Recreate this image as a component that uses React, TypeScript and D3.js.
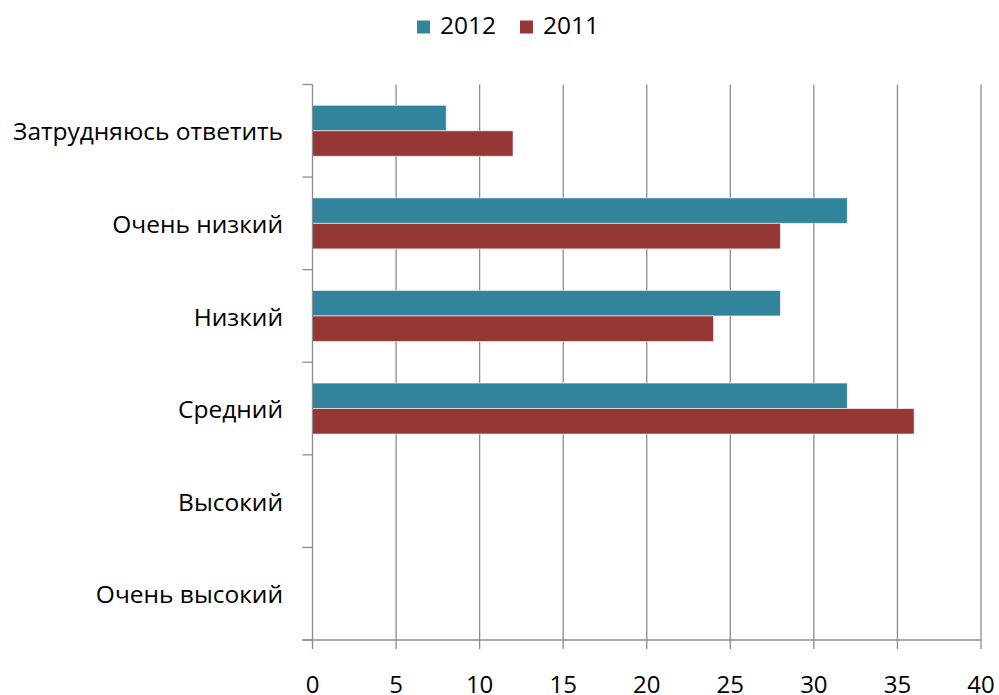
import React from "react";
import * as d3 from "d3";

const categories = ["Затрудняюсь ответить", "Очень низкий", "Низкий", "Средний", "Высокий", "Очень высокий"];
const series = ["2012", "2011"];
const values2012 = [8, 32, 28, 32, 0, 0];
const values2011 = [12, 28, 24, 36, 0, 0];
const xTicks = [0, 5, 10, 15, 20, 25, 30, 35, 40];
const colors = ["#31849B", "#953735"];

export default function App() {
  const W = 999, H = 695;
  const left = 312.5, right = 981, top = 84.5, bottom = 640;
  const x = d3.scaleLinear().domain([0, 40]).range([left, right]);
  const y = d3.scaleBand<string>().domain(categories).range([top, bottom]).paddingInner(0).paddingOuter(0);
  const bw = y.bandwidth();
  const barH = 25.5;
  const inner = d3.scaleBand<string>().domain(series).range([0, barH * 2]);
  const data = [values2012, values2011];
  const font = "'Open Sans', 'Noto Sans', sans-serif";
  const grid = "#8c8c8c";
  return (
    <svg width={W} height={H} style={{ position: "absolute", left: 0, top: 0, background: "#fff" }}>
      {xTicks.slice(1).map((t) => (
        <line key={"g" + t} x1={x(t)} x2={x(t)} y1={top} y2={bottom} stroke={grid} strokeWidth={1.3} />
      ))}
      {categories.map((c, i) =>
        series.map((s, j) => {
          const v = data[j][i];
          if (!v) return null;
          const yy = (y(c) as number) + (bw - barH * 2) / 2 + (inner(s) as number);
          return (
            <rect key={c + s} x={x(0)} y={yy} width={x(v) - x(0)} height={inner.bandwidth()}
              fill={colors[j]} stroke="#ffffff" strokeOpacity={0.6} strokeWidth={1} />
          );
        })
      )}
      {/* y axis */}
      <line x1={left} x2={left} y1={top} y2={bottom} stroke={grid} strokeWidth={1.3} />
      {d3.range(categories.length + 1).map((i) => {
        const yy = top + i * bw;
        return <line key={"yt" + i} x1={left - 10} x2={left} y1={yy} y2={yy} stroke={grid} strokeWidth={1.3} />;
      })}
      {categories.map((c) => (
        <text key={"l" + c} x={283} y={(y(c) as number) + bw / 2 + 1} dy="0.35em" textAnchor="end"
          fontFamily={font} fontSize={24.5} fill="#000">{c}</text>
      ))}
      {/* x axis */}
      <line x1={left - 10} x2={right} y1={bottom} y2={bottom} stroke={grid} strokeWidth={1.3} />
      {xTicks.map((t) => (
        <g key={"xt" + t}>
          <line x1={x(t)} x2={x(t)} y1={bottom} y2={bottom + 9} stroke={grid} strokeWidth={1.3} />
          <text x={x(t)} y={693} textAnchor="middle" fontFamily={font} fontSize={24} fill="#000">{t}</text>
        </g>
      ))}
      {/* legend */}
      {series.map((s, j) => {
        const lx = 417 + j * 103;
        return (
          <g key={"lg" + s}>
            <rect x={lx} y={20.5} width={13} height={13} fill={colors[j]} />
            <text x={lx + 23} y={34} fontFamily={font} fontSize={24.5} fill="#000">{s}</text>
          </g>
        );
      })}
    </svg>
  );
}
